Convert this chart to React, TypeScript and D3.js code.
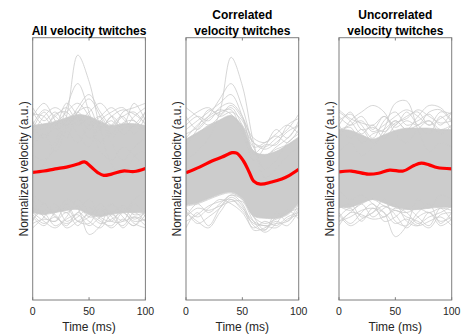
import React from "react";
import * as d3 from "d3";

// ---------- data ----------
const timeGrid = [0, 10, 20, 30, 40, 50, 60, 70, 80, 90, 100];
const xTicks = [0, 50, 100];
const xLabel = "Time (ms)";
const yLabel = "Normalized velocity (a.u.)";
const titles = [
  ["All velocity twitches"],
  ["Correlated", "velocity twitches"],
  ["Uncorrelated", "velocity twitches"],
];

// mean traces (red)
const allMeanTime = [0, 10, 20, 30, 40, 46, 52, 58, 63, 70, 80, 90, 100];
const allMeanValues = [-0.08, -0.05, 0.0, 0.04, 0.11, 0.16, 0.04, -0.09, -0.15, -0.12, -0.05, -0.06, 0.01];
const corrMeanTime = [0, 12, 23, 32, 41, 45, 51, 56, 60, 66, 76, 85, 91, 100];
const corrMeanValues = [-0.09, 0.04, 0.18, 0.27, 0.37, 0.36, 0.18, -0.07, -0.28, -0.35, -0.3, -0.23, -0.16, -0.01];
const uncMeanTime = [0, 11, 26, 35, 45, 57, 66, 73, 80, 87, 100];
const uncMeanValues = [-0.07, -0.05, -0.12, -0.1, -0.03, -0.05, 0.07, 0.13, 0.09, 0.03, 0.0];

// dense core of individual twitches (upper / lower envelope on timeGrid)
const allCoreUpper = [0.99, 1.03, 1.08, 1.17, 1.24, 1.2, 1.08, 0.99, 1.03, 1.03, 0.99];
const allCoreLower = [-1.0, -1.04, -1.0, -0.95, -0.93, -1.04, -1.09, -1.04, -1.0, -1.0, -1.0];
const corrCoreUpper = [0.68, 0.83, 0.98, 1.12, 1.22, 0.98, 0.4, 0.33, 0.4, 0.55, 0.73];
const corrCoreLower = [-0.83, -0.78, -0.68, -0.58, -0.53, -0.68, -1.08, -1.13, -1.13, -1.03, -0.78];
const uncCoreUpper = [0.9, 0.88, 0.78, 0.68, 0.78, 0.88, 0.93, 0.93, 0.93, 0.9, 0.9];
const uncCoreLower = [-0.88, -0.88, -0.78, -0.7, -0.78, -0.88, -0.93, -0.93, -0.9, -0.88, -0.88];

// individual twitches at the fringe of the cloud (values on timeGrid)
const allTraces = [
  [0.3, 0.2, 0.5, 1.2, 2.6, 2.0, 0.9, 0.1, -0.2, 0.3, 0.4],
  [-0.2, 0.1, 0.6, 1.4, 1.95, 1.3, 0.4, 0.2, 0.5, 0.3, 0.0],
  [0.5, 0.8, 0.4, 0.9, 1.3, 1.6, 1.2, 0.6, 0.2, 0.5, 0.7],
  [0.9, 1.3, 1.0, 1.5, 1.2, 0.7, 0.9, 1.1, 0.8, 1.0, 1.3],
  [1.4, 1.1, 1.3, 0.9, 0.6, 1.0, 1.2, 0.8, 1.3, 1.4, 1.5],
  [1.2, 1.5, 1.1, 0.7, 1.3, 1.4, 0.9, 1.2, 1.0, 1.5, 1.1],
  [0.8, 1.2, 1.4, 1.2, 0.8, 0.5, 1.1, 1.3, 1.4, 1.1, 0.9],
  [1.1, 0.7, 1.0, 1.3, 1.5, 1.2, 0.6, 1.0, 1.2, 0.8, 1.2],
  [0.95, 0.7, 1.1, 1.0, 1.2, 0.9, 1.1, 0.7, 1.05, 1.1, 0.8],
  [1.3, 1.0, 1.2, 1.4, 1.1, 1.3, 1.5, 1.2, 0.9, 1.2, 1.4],
  [1.0, 1.35, 1.2, 1.0, 1.4, 1.7, 1.3, 1.0, 1.2, 1.3, 1.0],
  [1.25, 1.2, 0.9, 1.1, 1.3, 1.0, 1.2, 1.4, 1.15, 0.95, 1.3],
  [1.05, 0.9, 1.25, 1.3, 1.0, 1.15, 0.95, 1.2, 1.35, 1.25, 1.05],
  [-0.6, -0.8, -1.0, -0.7, -0.9, -1.5, -1.3, -0.8, -1.0, -0.7, -0.5],
  [-1.35, -1.1, -0.8, -1.2, -1.0, -0.7, -1.1, -1.2, -0.9, -1.15, -1.0],
  [-1.1, -1.3, -1.0, -0.9, -1.2, -1.1, -0.8, -1.1, -1.3, -1.0, -1.2],
  [-0.9, -1.0, -1.3, -1.1, -0.7, -1.0, -1.2, -1.3, -1.0, -1.2, -1.15],
  [-1.2, -0.8, -1.1, -1.25, -1.1, -0.9, -1.0, -0.8, -1.1, -1.3, -0.9],
  [-0.7, -1.1, -1.2, -0.8, -1.2, -1.25, -0.9, -1.2, -1.2, -0.8, -1.1],
  [-0.95, -1.05, -0.9, -1.0, -0.85, -1.1, -1.05, -1.0, -0.85, -1.05, -1.0],
  [-1.05, -1.25, -1.1, -1.3, -1.0, -1.2, -1.35, -1.05, -1.2, -1.1, -1.3],
  [-1.25, -1.15, -1.2, -1.0, -1.3, -1.0, -1.15, -1.35, -1.15, -1.3, -1.05],
  [-1.0, -1.2, -1.35, -1.15, -1.05, -1.3, -1.1, -1.0, -1.35, -1.1, -1.2],
  [-1.15, -0.95, -1.05, -1.35, -1.2, -1.05, -1.25, -1.15, -1.0, -1.25, -1.35],
];
const corrTraces = [
  [0.2, 0.4, 0.7, 1.3, 2.55, 1.9, 0.6, -0.2, 0.0, 0.3, 0.5],
  [0.5, 0.9, 1.2, 1.6, 1.95, 1.4, 0.5, 0.0, 0.2, 0.6, 0.8],
  [0.9, 1.1, 1.3, 1.5, 1.7, 1.2, 0.4, 0.3, 0.5, 0.7, 1.0],
  [1.4, 1.2, 1.0, 1.2, 1.4, 1.0, 0.6, 0.5, 0.7, 0.9, 1.25],
  [1.1, 1.3, 1.4, 1.2, 1.3, 1.1, 0.5, 0.6, 0.8, 1.0, 0.8],
  [0.7, 1.0, 1.2, 1.35, 1.25, 0.9, 0.2, 0.5, 0.9, 0.7, 1.1],
  [0.65, 0.8, 1.0, 1.1, 1.2, 0.95, 0.4, 0.3, 0.45, 0.55, 0.7],
  [1.0, 1.2, 1.1, 1.4, 1.5, 1.2, 0.6, 0.45, 0.6, 0.85, 1.0],
  [0.8, 0.95, 1.35, 1.25, 1.45, 1.15, 0.7, 0.6, 0.75, 0.6, 0.9],
  [1.2, 0.9, 1.15, 1.3, 1.35, 0.8, 0.35, 0.55, 0.55, 1.0, 1.15],
  [-1.35, -1.0, -1.3, -0.9, -0.6, -0.8, -1.3, -1.4, -1.1, -1.0, -0.9],
  [-1.0, -1.2, -1.35, -1.0, -0.7, -0.9, -1.2, -1.3, -1.25, -1.2, -0.8],
  [-0.9, -1.1, -0.9, -0.7, -0.8, -1.0, -1.35, -1.2, -1.3, -1.1, -1.0],
  [-1.1, -0.8, -1.0, -0.8, -0.6, -0.7, -1.1, -1.4, -1.0, -1.2, -0.9],
  [-0.85, -0.8, -0.7, -0.6, -0.55, -0.7, -1.1, -1.25, -1.15, -1.05, -0.8],
  [-1.2, -1.05, -0.85, -0.75, -0.7, -0.95, -1.25, -1.3, -1.35, -1.15, -1.05],
  [-0.95, -1.25, -1.1, -0.9, -0.65, -0.85, -1.4, -1.35, -1.2, -1.3, -0.95],
  [-1.1, -0.9, -0.95, -0.85, -0.75, -0.75, -1.2, -1.45, -1.25, -0.95, -1.15],
];
const uncTraces = [
  [0.4, 0.6, 0.3, 0.5, 0.9, 1.5, 1.55, 0.9, 0.4, 0.6, 0.5],
  [0.7, 1.1, 1.3, 1.45, 1.3, 0.8, 0.6, 0.9, 1.1, 0.8, 1.0],
  [1.0, 0.7, 0.9, 0.6, 0.8, 1.1, 0.9, 1.2, 1.45, 1.4, 1.1],
  [1.3, 1.1, 0.8, 1.0, 0.7, 1.0, 1.2, 1.3, 1.0, 1.3, 1.25],
  [1.1, 1.25, 1.0, 0.7, 1.1, 1.3, 1.0, 1.1, 1.25, 1.0, 1.3],
  [0.9, 1.0, 1.2, 0.9, 1.2, 1.0, 1.3, 1.0, 0.8, 1.2, 0.9],
  [0.85, 0.95, 0.6, 0.8, 0.9, 1.1, 0.9, 1.0, 1.1, 0.9, 1.0],
  [1.2, 1.0, 1.1, 0.85, 1.0, 1.2, 1.35, 1.2, 1.0, 1.15, 1.3],
  [1.0, 1.3, 0.9, 0.95, 0.85, 1.05, 1.15, 1.35, 1.2, 1.05, 1.1],
  [1.35, 1.15, 1.05, 1.0, 1.2, 0.95, 1.1, 1.0, 1.3, 1.35, 1.05],
  [-0.5, -0.7, -0.6, -0.8, -1.0, -1.55, -1.3, -0.7, -0.9, -0.6, -0.7],
  [-1.2, -1.0, -0.8, -1.1, -0.9, -0.8, -1.2, -1.3, -1.0, -1.2, -1.1],
  [-1.0, -1.25, -1.0, -0.8, -1.2, -1.1, -0.9, -1.1, -1.3, -0.9, -1.2],
  [-0.9, -0.8, -1.1, -1.0, -0.7, -1.2, -1.3, -1.0, -0.8, -1.25, -1.0],
  [-1.1, -0.9, -1.2, -0.9, -1.1, -0.9, -1.0, -1.25, -1.1, -1.0, -0.85],
  [-0.85, -0.95, -0.8, -0.7, -0.85, -0.95, -1.0, -0.9, -1.0, -0.9, -0.95],
  [-1.2, -1.1, -0.95, -0.9, -1.0, -1.25, -1.15, -1.3, -1.2, -1.1, -1.3],
  [-1.05, -1.3, -1.15, -1.0, -0.85, -1.05, -1.35, -1.1, -1.0, -1.3, -1.15],
  [-1.3, -1.0, -1.05, -1.15, -1.1, -0.95, -1.1, -1.2, -1.35, -1.05, -1.0],
];

const panels = [
  { title: titles[0], meanT: allMeanTime, meanV: allMeanValues, up: allCoreUpper, lo: allCoreLower, traces: allTraces },
  { title: titles[1], meanT: corrMeanTime, meanV: corrMeanValues, up: corrCoreUpper, lo: corrCoreLower, traces: corrTraces },
  { title: titles[2], meanT: uncMeanTime, meanV: uncMeanValues, up: uncCoreUpper, lo: uncCoreLower, traces: uncTraces },
];

// ---------- layout ----------
const W = 461;
const H = 335;
const axLefts = [32.7, 186, 339];
const axW = 112.7;
const axTop = 37.7;
const axBottom = 300;
const FONT = "'Liberation Sans', Arial, Helvetica, sans-serif";
const GRAY = "#cccccc";

function Panel({ p, left, idx }: { p: any; left: number; idx: number }) {
  const x = d3.scaleLinear().domain([0, 100]).range([left, left + axW]);
  const y = d3.scaleLinear().domain([-3, 3]).range([axBottom, axTop]);
  const curve = d3.curveCatmullRom.alpha(0.5);
  const line = d3
    .line<[number, number]>()
    .x((d) => x(d[0]))
    .y((d) => y(d[1]))
    .curve(curve);
  const area = d3
    .area<number>()
    .x((_, i) => x(timeGrid[i]))
    .y0((_, i) => y(p.lo[i]))
    .y1((_, i) => y(p.up[i]))
    .curve(curve);
  const clipId = `clip${idx}`;
  const cx = left + axW / 2;
  const tickLen = 2.8;
  return (
    <g>
      <defs>
        <clipPath id={clipId}>
          <rect x={left} y={axTop} width={axW} height={axBottom - axTop} />
        </clipPath>
      </defs>
      <g clipPath={`url(#${clipId})`}>
        <path d={area(p.up) || ""} fill={GRAY} stroke={GRAY} strokeWidth={0.8} />
        {p.traces.map((tr: number[], i: number) => (
          <path
            key={i}
            d={line(tr.map((v, j) => [timeGrid[j], v] as [number, number])) || ""}
            fill="none"
            stroke={GRAY}
            strokeWidth={0.8}
          />
        ))}
        <path
          d={line(p.meanT.map((t: number, j: number) => [t, p.meanV[j]] as [number, number])) || ""}
          fill="none"
          stroke="#ff0000"
          strokeWidth={3.2}
          strokeLinejoin="round"
        />
      </g>
      <rect
        x={left}
        y={axTop}
        width={axW}
        height={axBottom - axTop}
        fill="none"
        stroke="#7f7f7f"
        strokeWidth={1}
      />
      {xTicks.map((t) => (
        <g key={t}>
          <line x1={x(t)} x2={x(t)} y1={axBottom} y2={axBottom - tickLen} stroke="#7f7f7f" strokeWidth={1} />
          <line x1={x(t)} x2={x(t)} y1={axTop} y2={axTop + tickLen} stroke="#7f7f7f" strokeWidth={1} />
          <text x={x(t)} y={315} textAnchor="middle" fontSize={10.5} fill="#262626" fontFamily={FONT}>
            {t}
          </text>
        </g>
      ))}
      <text x={cx} y={331} textAnchor="middle" fontSize={12} fill="#262626" fontFamily={FONT}>
        {xLabel}
      </text>
      <text
        transform={`translate(${left - 5},${(axTop + axBottom) / 2}) rotate(-90)`}
        textAnchor="middle"
        fontSize={12}
        fill="#262626"
        fontFamily={FONT}
      >
        {yLabel}
      </text>
      {p.title.map((tl: string, i: number) => (
        <text
          key={i}
          x={cx}
          y={35 - (p.title.length - 1 - i) * 16}
          textAnchor="middle"
          fontSize={12}
          fontWeight="bold"
          fill="#000"
          fontFamily={FONT}
        >
          {tl}
        </text>
      ))}
    </g>
  );
}

export default function App() {
  return (
    <svg
      width={W}
      height={H}
      viewBox={`0 0 ${W} ${H}`}
      style={{ position: "absolute", left: 0, top: 0, background: "#fff" }}
    >
      <rect x={0} y={0} width={W} height={H} fill="#fff" />
      {panels.map((p, i) => (
        <Panel key={i} p={p} left={axLefts[i]} idx={i} />
      ))}
    </svg>
  );
}
